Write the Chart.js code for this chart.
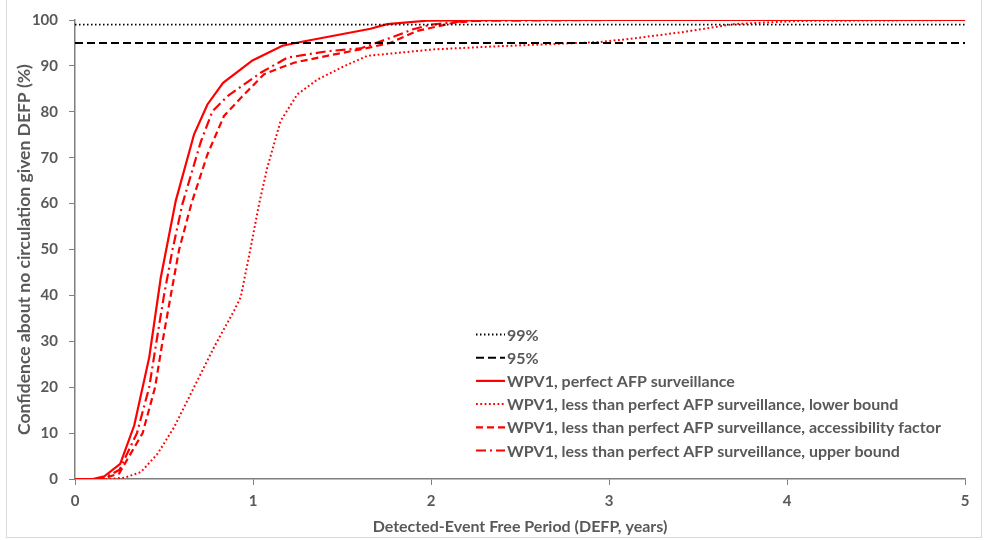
<!DOCTYPE html>
<html>
<head>
<meta charset="utf-8">
<script src="https://cdn.jsdelivr.net/npm/chart.js@4.4.0/dist/chart.umd.min.js"></script>
<style>
    html, body { margin: 0; padding: 0; background: #ffffff; }
    #wrap { position: relative; width: 988px; height: 540px; }
    #frame {
        position: absolute; left: 6px; top: -2px; width: 976px; height: 540px;
        border: 1px solid #d9d9d9; box-sizing: border-box; pointer-events: none;
    }
</style>
</head>
<body>
<div id="wrap">
    <canvas id="chart" width="988" height="540"></canvas>
    <div id="frame"></div>
</div>
<script>
const FONT = "Lato, 'Noto Sans', sans-serif";
const TEXT_COLOR = '#595959';

const xTicks = [0, 1, 2, 3, 4, 5];
const yTicks = [0, 10, 20, 30, 40, 50, 60, 70, 80, 90, 100];

const thresholdX = [0, 5];
const line99 = [99, 99];
const line95 = [95, 95];

const perfectX = [0, 0.10, 0.165, 0.254, 0.333, 0.417, 0.482, 0.566, 0.669, 0.744, 0.832, 0.997, 1.165, 1.268, 1.66, 1.754, 1.978, 2.5, 3, 4, 5];
const perfectY = [0, 0, 0.6, 3.3, 11.7, 26.5, 43.9, 60.6, 75.1, 81.6, 86.3, 91.2, 94.4, 95.2, 98.1, 99.1, 99.85, 100, 100, 100, 100];

const lowerX = [0, 0.2, 0.28, 0.37, 0.464, 0.557, 0.669, 0.781, 0.894, 0.931, 0.987, 1.034, 1.08, 1.155, 1.249, 1.361, 1.51, 1.642, 2.015, 2.39, 2.95, 3.14, 3.42, 3.70, 4.07, 5];
const lowerY = [0, 0, 0.3, 1.5, 5.5, 11.3, 20, 28.7, 36.7, 39.6, 50.4, 59.9, 67.8, 78, 83.8, 87, 89.9, 92.2, 93.6, 94.3, 95.2, 96, 97.4, 99.1, 99.8, 100];

const accessX = [0, 0.15, 0.248, 0.38, 0.45, 0.492, 0.538, 0.585, 0.654, 0.744, 0.837, 0.931, 1.062, 1.23, 1.417, 1.604, 1.77, 1.92, 2.13, 2.3, 3, 4, 5];
const accessY = [0, 0, 1.2, 10, 20, 30, 40, 50, 60, 70.7, 79.1, 83, 88.2, 90.7, 92.2, 93.6, 95, 97.6, 99.4, 100, 100, 100, 100];

const upperX = [0, 0.15, 0.25, 0.348, 0.417, 0.458, 0.5, 0.548, 0.604, 0.707, 0.772, 0.856, 1.043, 1.193, 1.417, 1.604, 1.8, 1.9, 2.0, 2.2, 3, 4, 5];
const upperY = [0, 0, 2, 10, 20, 30, 40, 50, 60, 73.5, 80.1, 83.4, 88.5, 91.8, 93.2, 93.8, 96.5, 98, 99, 99.8, 100, 100, 100];

const labels = [
    '99%',
    '95%',
    'WPV1, perfect AFP surveillance',
    'WPV1, less than perfect AFP surveillance, lower bound',
    'WPV1, less than perfect AFP surveillance, accessibility factor',
    'WPV1, less than perfect AFP surveillance, upper bound'
];

function toPoints(xs, ys) {
    return xs.map((x, i) => ({ x: x, y: ys[i] }));
}

function makeSeries(label, xs, ys, color, dash, width) {
    return {
        label: label,
        data: toPoints(xs, ys),
        borderColor: color,
        borderWidth: width,
        borderDash: dash,
        pointRadius: 0,
        tension: 0,
        fill: false,
    };
}

// legend drawn inside the plot, Excel style
const insideLegend = {
    id: 'insideLegend',
    afterDraw(chart) {
        const ctx = chart.ctx;
        const left = 476;
        const top = 334.5;
        const rowH = 23.2;
        ctx.save();
        ctx.font = `bold 16px ${FONT}`;
        ctx.textBaseline = 'middle';
        chart.data.datasets.forEach((ds, i) => {
            const y = top + i * rowH;
            ctx.beginPath();
            ctx.strokeStyle = ds.borderColor;
            ctx.lineWidth = ds.borderWidth;
            ctx.setLineDash(ds.borderDash || []);
            ctx.moveTo(left, y);
            ctx.lineTo(left + 29, y);
            ctx.stroke();
            ctx.setLineDash([]);
            ctx.fillStyle = TEXT_COLOR;
            ctx.fillText(ds.label, left + 31, y + 1);
        });
        ctx.restore();
    }
};

const ctx = document.getElementById('chart').getContext('2d');
new Chart(ctx, {
    type: 'line',
    data: {
        datasets: [
            makeSeries(labels[0], thresholdX, line99, '#000000', [1.5, 2.5], 1.8),
            makeSeries(labels[1], thresholdX, line95, '#000000', [8, 4], 2),
            makeSeries(labels[2], perfectX, perfectY, '#ff0000', [], 2.2),
            makeSeries(labels[3], lowerX, lowerY, '#ff0000', [1.8, 2.5], 2),
            makeSeries(labels[4], accessX, accessY, '#ff0000', [7, 4], 2.2),
            makeSeries(labels[5], upperX, upperY, '#ff0000', [10, 4, 2, 4], 2.2),
        ]
    },
    options: {
        responsive: false,
        animation: false,
        layout: { padding: { top: 19, right: 23, left: 10, bottom: 0 } },
        plugins: {
            legend: { display: false },
            tooltip: { enabled: false }
        },
        scales: {
            x: {
                type: 'linear',
                min: 0,
                max: 5,
                afterBuildTicks: scale => { scale.ticks = xTicks.map(v => ({ value: v })); },
                afterFit: scale => { scale.height = 61; },
                grid: { drawOnChartArea: false, drawTicks: true, tickLength: 6, color: '#7f7f7f' },
                border: { color: '#7f7f7f', width: 1.5 },
                ticks: { color: TEXT_COLOR, font: { family: FONT, size: 15, weight: 'bold' }, padding: 7, maxRotation: 0 },
                title: {
                    display: true,
                    text: 'Detected-Event Free Period (DEFP, years)',
                    color: TEXT_COLOR,
                    font: { family: FONT, size: 16, weight: 'bold' },
                    padding: { top: 4 }
                }
            },
            y: {
                min: 0,
                max: 100,
                afterBuildTicks: scale => { scale.ticks = yTicks.map(v => ({ value: v })); },
                afterFit: scale => { scale.width = 65; },
                grid: { drawOnChartArea: false, drawTicks: true, tickLength: 6, color: '#7f7f7f' },
                border: { color: '#7f7f7f', width: 1.5 },
                ticks: { color: TEXT_COLOR, font: { family: FONT, size: 15, weight: 'bold' }, padding: 11 },
                title: {
                    display: true,
                    text: 'Confidence about no circulation given DEFP (%)',
                    color: TEXT_COLOR,
                    font: { family: FONT, size: 17.5, weight: 'bold' },
                    padding: { bottom: 2 }
                }
            }
        }
    },
    plugins: [insideLegend]
});
</script>
</body>
</html>
